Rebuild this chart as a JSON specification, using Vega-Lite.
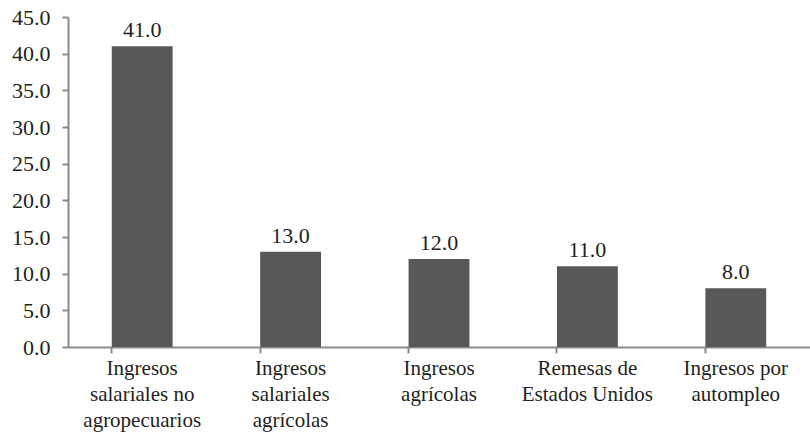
{
  "$schema": "https://vega.github.io/schema/vega-lite/v6.json",
  "width": 742,
  "height": 330,
  "autosize": {"type": "none"},
  "padding": {"left": 68, "top": 17, "right": 0, "bottom": 88},
  "background": "white",
  "data": {
    "values": [
      {"categoria": "Ingresos salariales no agropecuarios", "valor": 41.0},
      {"categoria": "Ingresos salariales agrícolas", "valor": 13.0},
      {"categoria": "Ingresos agrícolas", "valor": 12.0},
      {"categoria": "Remesas de Estados Unidos", "valor": 11.0},
      {"categoria": "Ingresos por autompleo", "valor": 8.0}
    ]
  },
  "config": {
    "view": {"stroke": null},
    "font": "Liberation Serif"
  },
  "encoding": {
    "x": {
      "field": "categoria",
      "type": "nominal",
      "sort": null,
      "scale": {"paddingInner": 0.59, "paddingOuter": 0.295},
      "axis": {
        "title": null,
        "grid": false,
        "labelAngle": 0,
        "bandPosition": 0,
        "labelAlign": "center",
        "labelFont": "Liberation Serif",
        "labelFontSize": 21,
        "labelColor": "#231f20",
        "labelLineHeight": 26,
        "labelPadding": 4,
        "domainColor": "#8a8a8a",
        "domainWidth": 2,
        "tickColor": "#8a8a8a",
        "tickWidth": 2,
        "tickSize": 6,
        "labelExpr": "{'Ingresos salariales no agropecuarios': ['Ingresos', 'salariales no', 'agropecuarios'], 'Ingresos salariales agrícolas': ['Ingresos', 'salariales', 'agrícolas'], 'Ingresos agrícolas': ['Ingresos', 'agrícolas'], 'Remesas de Estados Unidos': ['Remesas de', 'Estados Unidos'], 'Ingresos por autompleo': ['Ingresos por', 'autompleo']}[datum.value]"
      }
    },
    "y": {
      "field": "valor",
      "type": "quantitative",
      "scale": {"domain": [0, 45], "nice": false},
      "axis": {
        "title": null,
        "grid": false,
        "values": [0, 5, 10, 15, 20, 25, 30, 35, 40, 45],
        "format": ".1f",
        "labelFont": "Liberation Serif",
        "labelFontSize": 22,
        "labelColor": "#231f20",
        "labelPadding": 12,
        "domainColor": "#8a8a8a",
        "domainWidth": 2,
        "tickColor": "#8a8a8a",
        "tickWidth": 2,
        "tickSize": 6
      }
    }
  },
  "layer": [
    {"mark": {"type": "bar", "color": "#58585a"}},
    {
      "mark": {"type": "text", "baseline": "alphabetic", "dy": -9, "fontSize": 22, "font": "Liberation Serif", "color": "#231f20"},
      "encoding": {"text": {"field": "valor", "type": "quantitative", "format": ".1f"}}
    }
  ]
}
